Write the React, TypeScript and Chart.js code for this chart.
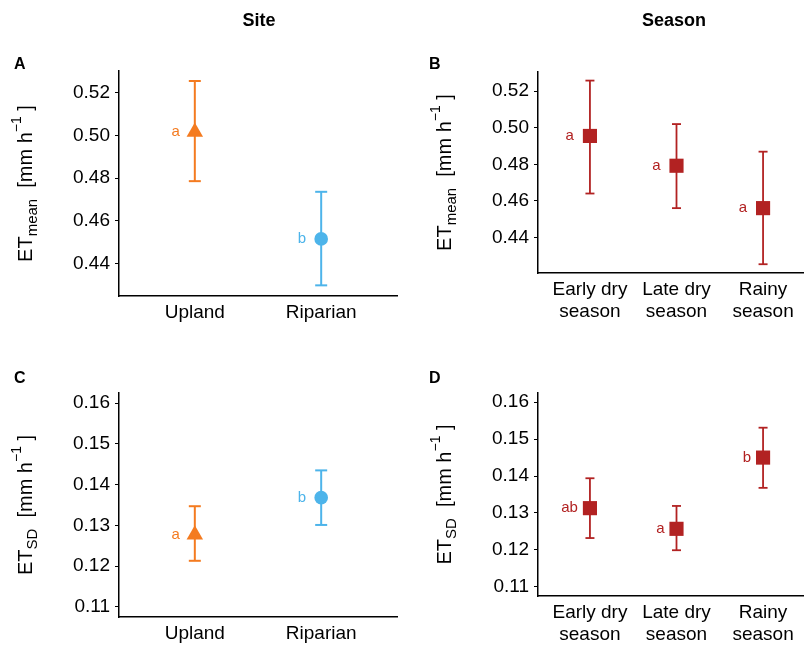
import React, { useEffect, useRef } from 'react';
import { Chart, registerables } from 'chart.js';

Chart.register(...registerables);

const FONT = '"Liberation Sans", Arial, Helvetica, sans-serif';

// ---- data ----
const siteCategories: string[] = ['Upland', 'Riparian'];
const seasonCategories: string[][] = [['Early dry', 'season'], ['Late dry', 'season'], ['Rainy', 'season']];

const siteMeanET = [0.5017, 0.4515];
const siteMeanLow = [0.4786, 0.4297];
const siteMeanHigh = [0.5256, 0.4736];
const siteMeanLetters = ['a', 'b'];

const seasonMeanET = [0.4955, 0.4792, 0.456];
const seasonMeanLow = [0.464, 0.456, 0.4253];
const seasonMeanHigh = [0.5258, 0.502, 0.4869];
const seasonMeanLetters = ['a', 'a', 'a'];

const siteSdET = [0.1277, 0.1368];
const siteSdLow = [0.1213, 0.1301];
const siteSdHigh = [0.1347, 0.1435];
const siteSdLetters = ['a', 'b'];

const seasonSdET = [0.1313, 0.1257, 0.145];
const seasonSdLow = [0.1232, 0.1199, 0.1368];
const seasonSdHigh = [0.1394, 0.1319, 0.1531];
const seasonSdLetters = ['ab', 'a', 'b'];

const meanTicks = [0.44, 0.46, 0.48, 0.5, 0.52];
const sdTicks = [0.11, 0.12, 0.13, 0.14, 0.15, 0.16];

const siteColors = ['#F47B20', '#4DB4EA'];
const siteShapes = ['triangle', 'circle'];
const siteRadii = [9.5, 6.8];
const seasonColor = '#B22222';

// ---- panel layout ----
type PanelCfg = {
  x: number; y: number; w: number; h: number;
  ca: { l: number; t: number; r: number; b: number };
  cats: (string | string[])[];
  mean: number[]; low: number[]; high: number[]; letters: string[];
  colors: string[]; shapes: string[]; radii: number[];
  ticks: number[]; yMin: number; yMax: number;
  cap: number; stem: number; labelOffset: number;
  panelLetter: string; letterPos: [number, number];
  colTitle?: string; colTitleX?: number;
  sub: string;
};

const panels: PanelCfg[] = [
  {
    x: 0, y: 0, w: 400, h: 330, ca: { l: 119, t: 71, r: 397, b: 296 },
    cats: siteCategories, mean: siteMeanET, low: siteMeanLow, high: siteMeanHigh, letters: siteMeanLetters,
    colors: siteColors, shapes: siteShapes, radii: siteRadii,
    ticks: meanTicks, yMin: 0.4247, yMax: 0.5303, cap: 6, stem: 2, labelOffset: 15,
    panelLetter: 'A', letterPos: [14, 65], colTitle: 'Site', colTitleX: 259, sub: 'mean',
  },
  {
    x: 400, y: 0, w: 420, h: 330, ca: { l: 138, t: 72, r: 415, b: 273 },
    cats: seasonCategories, mean: seasonMeanET, low: seasonMeanLow, high: seasonMeanHigh, letters: seasonMeanLetters,
    colors: [seasonColor, seasonColor, seasonColor], shapes: ['rect', 'rect', 'rect'], radii: [10, 10, 10],
    ticks: meanTicks, yMin: 0.4205, yMax: 0.5305, cap: 4.5, stem: 1.8, labelOffset: 16,
    panelLetter: 'B', letterPos: [29, 65], colTitle: 'Season', colTitleX: 274, sub: 'mean',
  },
  {
    x: 0, y: 330, w: 400, h: 316, ca: { l: 119, t: 63, r: 397, b: 287 },
    cats: siteCategories, mean: siteSdET, low: siteSdLow, high: siteSdHigh, letters: siteSdLetters,
    colors: siteColors, shapes: siteShapes, radii: siteRadii,
    ticks: sdTicks, yMin: 0.1075, yMax: 0.1625, cap: 6, stem: 2, labelOffset: 15,
    panelLetter: 'C', letterPos: [14, 49], sub: 'SD',
  },
  {
    x: 400, y: 330, w: 420, h: 316, ca: { l: 138, t: 63, r: 415, b: 266 },
    cats: seasonCategories, mean: seasonSdET, low: seasonSdLow, high: seasonSdHigh, letters: seasonSdLetters,
    colors: [seasonColor, seasonColor, seasonColor], shapes: ['rect', 'rect', 'rect'], radii: [10, 10, 10],
    ticks: sdTicks, yMin: 0.1075, yMax: 0.1625, cap: 4.5, stem: 1.8, labelOffset: 12,
    panelLetter: 'D', letterPos: [29, 49], sub: 'SD',
  },
];

function makePlugin(cfg: PanelCfg) {
  return {
    id: 'panelText',
    afterDatasetsDraw(chart: any) {
      const ctx = chart.ctx as CanvasRenderingContext2D;
      const meta = chart.getDatasetMeta(0);
      ctx.save();
      ctx.font = `15px ${FONT}`;
      ctx.textAlign = 'right';
      ctx.textBaseline = 'middle';
      meta.data.forEach((pt: any, i: number) => {
        ctx.fillStyle = cfg.colors[i];
        ctx.fillText(cfg.letters[i], pt.x - cfg.labelOffset, pt.y);
      });
      ctx.restore();
    },
    afterDraw(chart: any) {
      const ctx = chart.ctx as CanvasRenderingContext2D;
      const { left, top, bottom } = chart.chartArea;
      // y-axis title with subscript / superscript
      const segs = [
        { t: 'ET', size: 20, dy: 0 },
        { t: cfg.sub, size: 15, dy: 5 },
        { t: '  [mm h', size: 20, dy: 0 },
        { t: '\u22121', size: 14, dy: -11 },
        { t: ' ]', size: 20, dy: 0 },
      ];
      ctx.save();
      ctx.fillStyle = '#000';
      ctx.textBaseline = 'alphabetic';
      ctx.textAlign = 'left';
      let total = 0;
      const widths = segs.map((s) => {
        ctx.font = `${s.size}px ${FONT}`;
        const w = ctx.measureText(s.t).width;
        total += w;
        return w;
      });
      ctx.translate(left - 87, (top + bottom) / 2);
      ctx.rotate(-Math.PI / 2);
      let cx = -total / 2;
      segs.forEach((s, i) => {
        ctx.font = `${s.size}px ${FONT}`;
        ctx.fillText(s.t, cx, s.dy);
        cx += widths[i];
      });
      ctx.restore();

      // panel letter
      ctx.save();
      ctx.fillStyle = '#000';
      ctx.font = `bold 16px ${FONT}`;
      ctx.textAlign = 'left';
      ctx.textBaseline = 'middle';
      ctx.fillText(cfg.panelLetter, cfg.letterPos[0], cfg.letterPos[1]);
      if (cfg.colTitle) {
        ctx.font = `bold 18px ${FONT}`;
        ctx.textAlign = 'center';
        ctx.fillText(cfg.colTitle, cfg.colTitleX!, 21);
      }
      ctx.restore();
    },
  };
}

function buildConfig(cfg: PanelCfg): any {
  const n = cfg.cats.length;
  const datasets: any[] = [
    {
      label: 'mean',
      data: cfg.mean.map((v, i) => ({ x: i + 1, y: v })),
      pointStyle: cfg.shapes,
      pointRadius: cfg.radii,
      pointBackgroundColor: cfg.colors,
      pointBorderWidth: 0,
      showLine: false,
      order: 0,
    },
  ];
  cfg.mean.forEach((_, i) => {
    datasets.push({
      label: 'err' + i,
      data: [
        { x: i + 1, y: cfg.low[i] },
        { x: i + 1, y: cfg.high[i] },
      ],
      showLine: true,
      borderColor: cfg.colors[i],
      borderWidth: cfg.stem,
      pointStyle: 'line',
      pointRadius: cfg.cap,
      pointBorderWidth: cfg.stem,
      pointBorderColor: cfg.colors[i],
      order: 1,
    });
  });
  const axisFont = { family: FONT, size: 19 };
  return {
    type: 'scatter',
    data: { datasets },
    plugins: [makePlugin(cfg)],
    options: {
      responsive: false,
      animation: false,
      events: [],
      layout: {
        autoPadding: false,
        padding: { left: 0, top: cfg.ca.t, right: cfg.w - cfg.ca.r, bottom: 0 },
      },
      plugins: { legend: { display: false }, tooltip: { enabled: false } },
      scales: {
        x: {
          type: 'linear',
          min: 0.4,
          max: n + 0.6,
          afterBuildTicks: (s: any) => {
            s.ticks = cfg.cats.map((_, i) => ({ value: i + 1 }));
          },
          afterFit: (s: any) => {
            s.height = cfg.h - cfg.ca.b;
            s.paddingLeft = 0;
            s.paddingRight = 0;
            s.paddingTop = 0;
            s.paddingBottom = 0;
          },
          grid: { display: false, drawTicks: false },
          border: { display: true, color: '#000', width: 1.5 },
          ticks: {
            color: '#000',
            font: axisFont,
            padding: 5,
            maxRotation: 0,
            autoSkip: false,
            callback: (v: number) => cfg.cats[Math.round(v) - 1],
          },
        },
        y: {
          type: 'linear',
          min: cfg.yMin,
          max: cfg.yMax,
          afterBuildTicks: (s: any) => {
            s.ticks = cfg.ticks.map((v) => ({ value: v }));
          },
          afterFit: (s: any) => {
            s.width = cfg.ca.l;
            s.paddingLeft = 0;
            s.paddingRight = 0;
            s.paddingTop = 0;
            s.paddingBottom = 0;
          },
          grid: { display: true, drawOnChartArea: false, drawTicks: true, tickLength: 4, color: '#000', lineWidth: 1 },
          border: { display: true, color: '#000', width: 1.5 },
          ticks: {
            color: '#000',
            font: axisFont,
            padding: 5,
            callback: (v: number) => v.toFixed(2),
          },
        },
      },
    },
  };
}

function Panel({ cfg }: { cfg: PanelCfg }) {
  const ref = useRef<HTMLCanvasElement>(null);
  useEffect(() => {
    const chart = new Chart(ref.current as HTMLCanvasElement, buildConfig(cfg));
    return () => chart.destroy();
  }, [cfg]);
  return (
    <canvas
      ref={ref}
      width={cfg.w}
      height={cfg.h}
      style={{ position: 'absolute', left: cfg.x, top: cfg.y, width: cfg.w, height: cfg.h }}
    />
  );
}

export default function App() {
  return (
    <div
      style={{
        position: 'fixed',
        left: 0,
        top: 0,
        width: 804,
        height: 646,
        overflow: 'hidden',
        background: '#fff',
      }}
    >
      {panels.map((p) => (
        <Panel key={p.panelLetter} cfg={p} />
      ))}
    </div>
  );
}
